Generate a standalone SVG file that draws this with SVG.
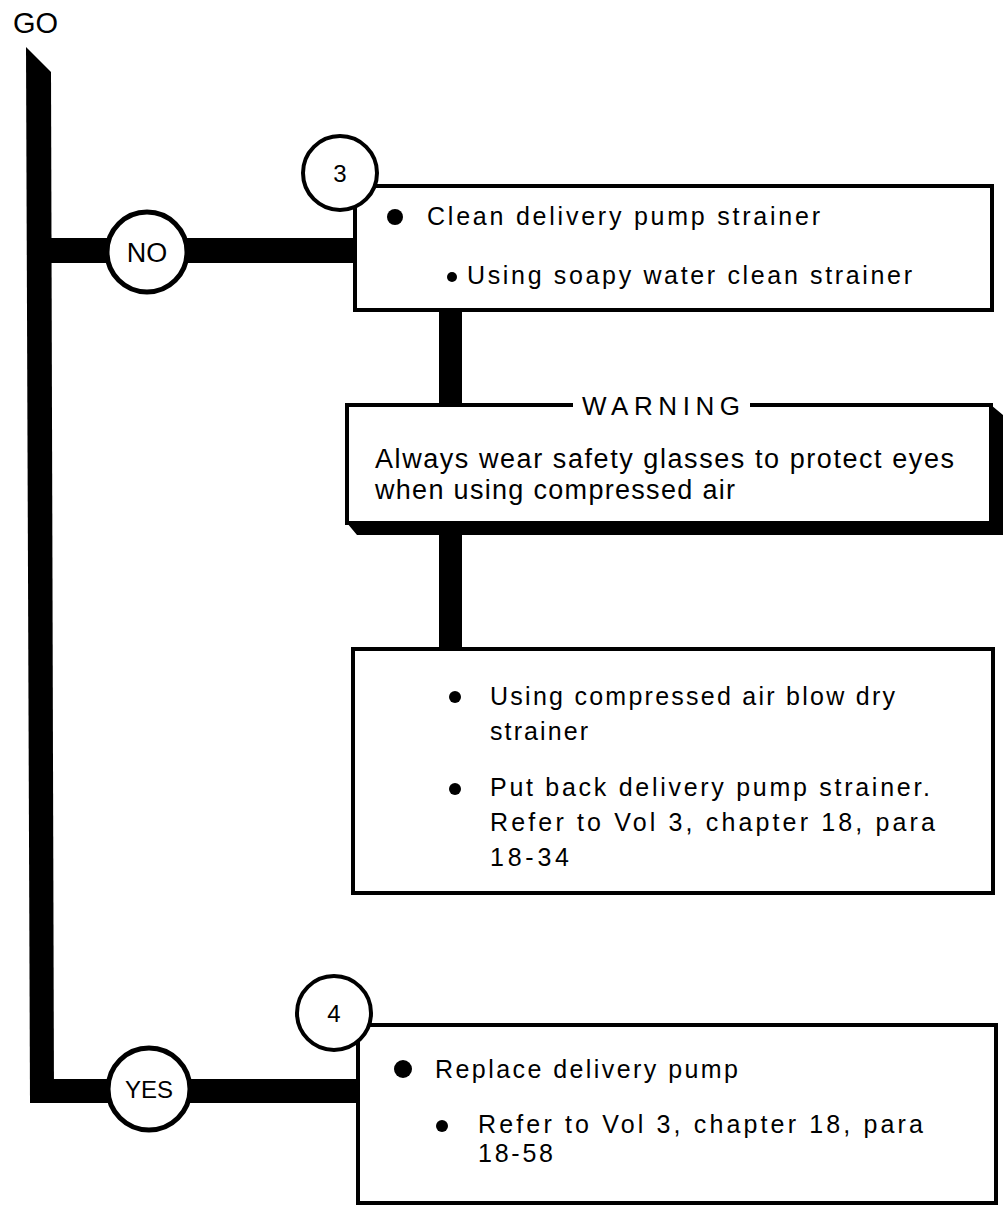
<svg xmlns="http://www.w3.org/2000/svg" width="1007" height="1207" viewBox="0 0 1007 1207">
<style>
text{font-family:"Liberation Sans",Arial,sans-serif;fill:#000}
.t{font-size:25px}
.w{font-size:27px}
.hd{font-size:26px}
.lbl{font-size:27px;text-anchor:middle}
.num{font-size:24px;text-anchor:middle}
.box{fill:#fff;stroke:#000;stroke-width:4}
.circ{fill:#fff;stroke:#000;stroke-width:5}
.step{fill:#fff;stroke:#000;stroke-width:4}
.bar{fill:#000}
</style>
<rect width="1007" height="1207" fill="#fff"/>
<g id="connectors" class="bar">
<polygon points="26,47 51,72 54,1103 30,1103"/>
<rect x="50" y="238" width="305" height="25"/>
<rect x="50" y="1079" width="308" height="24"/>
<rect x="439" y="308" width="23" height="99"/>
<rect x="439" y="533" width="23" height="118"/>
</g>
<g id="go"><text x="13" y="33" style="font-size:29px">GO</text></g>
<g id="box1">
<rect class="box" x="355" y="186" width="637" height="124"/>
<circle cx="395" cy="217" r="8"/>
<text class="t" x="427" y="225" textLength="393">Clean delivery pump strainer</text>
<circle cx="452" cy="277" r="5"/>
<text class="t" x="467" y="284" textLength="445">Using soapy water clean strainer</text>
</g>
<g id="step3">
<circle class="step" cx="340" cy="173" r="37"/>
<text class="num" x="340" y="182">3</text>
</g>
<g id="no">
<circle class="circ" cx="147" cy="252" r="40"/>
<text class="lbl" x="147" y="262">NO</text>
</g>
<g id="warning">
<polygon points="347,523 357,535 1003,535 1003,415 991,405 991,523" fill="#000"/>
<rect x="347" y="405" width="644" height="118" fill="#fff"/>
<path d="M573,405 H347 V523 H991 V405 H750" fill="none" stroke="#000" stroke-width="4"/>
<text class="hd" x="661" y="415" text-anchor="middle" textLength="158">WARNING</text>
<text class="w" x="375" y="468" textLength="579">Always wear safety glasses to protect eyes</text>
<text class="w" x="375" y="499" textLength="360">when using compressed air</text>
</g>
<g id="box3">
<rect class="box" x="353" y="649" width="640" height="244"/>
<circle cx="455" cy="697" r="6"/>
<text class="t" x="490" y="705" textLength="405">Using compressed air blow dry</text>
<text class="t" x="490" y="740" textLength="98">strainer</text>
<circle cx="455" cy="789" r="6"/>
<text class="t" x="490" y="796" textLength="440">Put back delivery pump strainer.</text>
<text class="t" x="490" y="831" textLength="445">Refer to Vol 3, chapter 18, para</text>
<text class="t" x="490" y="866" textLength="79">18-34</text>
</g>
<g id="box4">
<rect class="box" x="358" y="1025" width="638" height="178"/>
<circle cx="403" cy="1069" r="9"/>
<text class="t" x="435" y="1078" textLength="303">Replace delivery pump</text>
<circle cx="442" cy="1126" r="6"/>
<text class="t" x="478" y="1133" textLength="445">Refer to Vol 3, chapter 18, para</text>
<text class="t" x="478" y="1162" textLength="75">18-58</text>
</g>
<g id="step4">
<circle class="step" cx="334" cy="1013" r="37"/>
<text class="num" x="334" y="1022">4</text>
</g>
<g id="yes">
<circle class="circ" cx="149" cy="1089" r="41"/>
<text x="149" y="1098" style="font-size:24px;text-anchor:middle">YES</text>
</g>
</svg>
